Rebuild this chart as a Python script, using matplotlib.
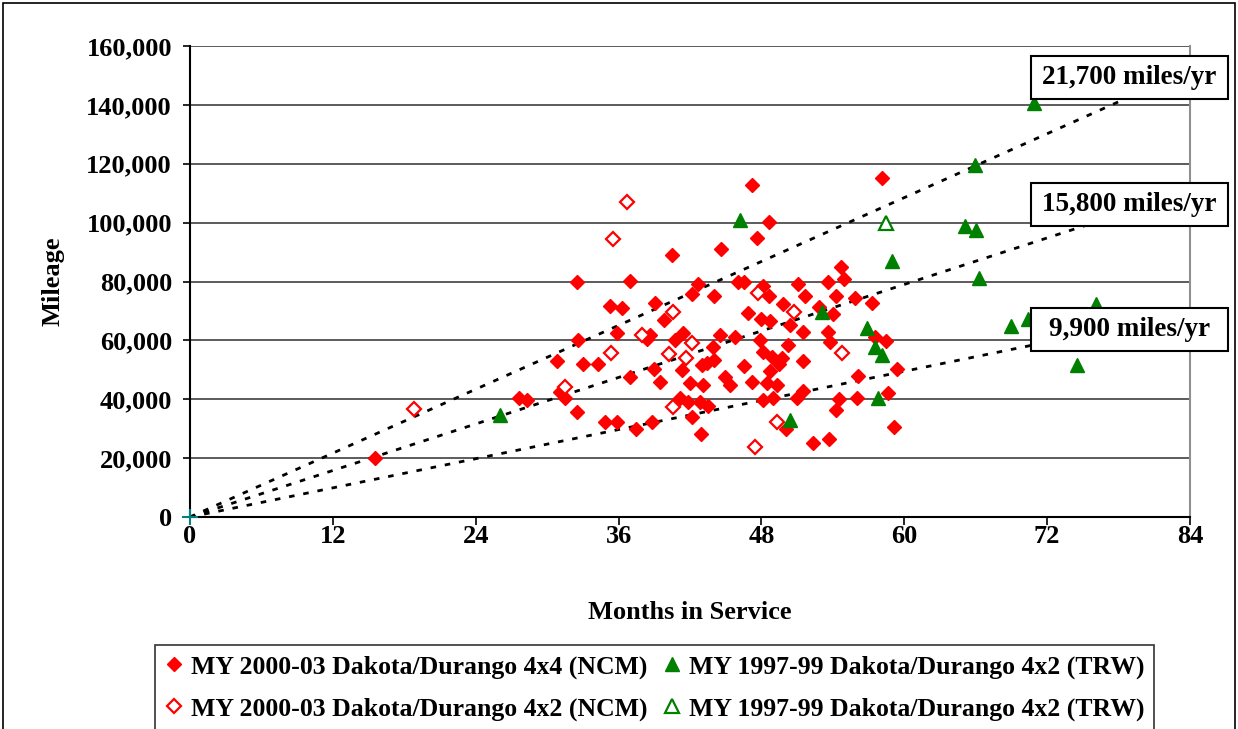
import matplotlib
matplotlib.use("Agg")
import matplotlib.pyplot as plt
from matplotlib.lines import Line2D
from matplotlib.patches import Rectangle
import numpy as np

plt.rcParams['font.family'] = ['Liberation Serif', 'DejaVu Serif']
plt.rcParams['font.weight'] = 'bold'

# months in service / odometer miles for each vehicle group
ncm_4x4_months = [15.5, 30.8, 31.1, 31.5, 32.5, 32.6, 32.5, 33.0, 34.3, 35.9,
                  34.9, 35.9, 37.5, 38.8, 37.0, 39.0, 39.5, 38.4, 38.6, 39.8,
                  37.0, 35.3, 36.3, 39.1, 40.5, 44.6, 47.2, 48.6, 47.6, 42.7,
                  42.2, 44.0, 46.0, 46.5, 48.1, 48.6, 49.8, 46.9, 48.0, 48.7,
                  40.7, 41.4, 44.5, 45.8, 43.9, 44.0, 43.0, 43.4, 41.3, 46.5,
                  44.9, 45.4, 47.2, 42.0, 43.1, 41.2, 41.8, 42.8, 43.5, 42.2,
                  42.9, 48.1, 49.0, 47.9, 48.1, 48.9, 49.5, 48.7, 48.5, 49.3,
                  50.2, 49.7, 50.4, 51.5, 53.6, 53.8, 54.0, 57.5, 58.5, 51.5,
                  56.1, 59.4, 58.6, 51.0, 51.5, 54.5, 54.3, 56.0, 50.1, 52.3,
                  53.7, 59.1, 58.1, 54.7, 54.9, 53.6, 51.1, 51.7, 54.3, 55.9,
                  57.3, 52.8, 27.6, 28.3]
ncm_4x4_miles = [20000, 53000, 42500, 40400, 79800, 60100, 35700, 52000, 52000, 62500,
                 32300, 32300, 29900, 32300, 47600, 50300, 45900, 60500, 61800, 66900,
                 80200, 71700, 71000, 72700, 89000, 91000, 112800, 100200, 94800, 79200,
                 75800, 75100, 79800, 79800, 78500, 75100, 72400, 69300, 67300, 66600,
                 60100, 62500, 61800, 61100, 57700, 53300, 51600, 52300, 49900, 51300,
                 47600, 44800, 45900, 45500, 44800, 40400, 39100, 39100, 37700, 34000,
                 28200, 39700, 40400, 60100, 56100, 54400, 52000, 49600, 45500, 44800,
                 58400, 54000, 65200, 62800, 62800, 59400, 69000, 61100, 59800, 53000,
                 47900, 50300, 42100, 40400, 42800, 40100, 36300, 40400, 29900, 25100,
                 26500, 30600, 115200, 84900, 80800, 79800, 79200, 75100, 75100, 74400,
                 72700, 71300, 40400, 39700]

ncm_4x2_months = [18.8, 36.7, 35.5, 35.4, 31.5, 38.0, 40.6, 42.2, 40.2, 41.7,
                  40.6, 47.5, 47.7, 49.3, 50.7, 54.8]
ncm_4x2_miles = [36700, 107000, 94400, 55700, 44200, 61800, 69600, 59100, 55400, 54000,
                 37400, 23800, 76100, 32300, 69600, 55700]

trw_filled_months = [26.0, 46.2, 53.1, 56.9, 57.5, 58.1, 57.8, 50.4, 59.0, 70.9,
                     65.9, 65.1, 66.0, 66.3, 69.0, 70.4, 76.1, 74.5]
trw_filled_miles = [34700, 100900, 69600, 64200, 57700, 55000, 40400, 33000, 87000, 140600,
                    119600, 98900, 97500, 81200, 64900, 67300, 72400, 51600]

trw_open_months = [58.5]
trw_open_miles = [99900]

# average accumulation rates (miles per year) for the reference lines
rates = [21700, 15800, 9900]
rate_labels = ['21,700 miles/yr', '15,800 miles/yr', '9,900 miles/yr']
label_tops = [56, 183, 308]   # pixel rows of the label boxes

W, H = 1238, 729
fig = plt.figure(figsize=(W / 100, H / 100), dpi=100)
ax = fig.add_axes([190 / W, 1 - 517 / H, 1000 / W, 471 / H])

ax.set_xlim(0, 84)
ax.set_ylim(0, 160000)
ax.set_xticks(np.arange(0, 85, 12))
ax.set_yticks(np.arange(0, 160001, 20000))
ax.set_yticklabels(['0' if v == 0 else '{:,}'.format(v) for v in range(0, 160001, 20000)])
ax.tick_params(axis='both', labelsize=19, direction='out', length=6, width=1.2, colors='black')
ax.tick_params(axis='x', pad=0)
ax.tick_params(axis='y', length=5, pad=8)
for lab in ax.get_xticklabels() + ax.get_yticklabels():
    lab.set_fontweight('bold')

for v in range(20000, 160001, 20000):
    ax.axhline(v, color='#404040', lw=1.2, zorder=1)

ax.spines['top'].set_visible(False)
ax.spines['right'].set_color('#909090')
ax.spines['right'].set_linewidth(1.5)
ax.spines['left'].set_linewidth(1.5)
ax.spines['bottom'].set_linewidth(1.5)

# dotted rate lines through the origin
xs = np.array([0, 84])
for r in rates:
    ax.plot(xs, xs * r / 12, color='black', lw=2, linestyle=(0, (2, 3.2)), zorder=3)

ax.plot(ncm_4x4_months, ncm_4x4_miles, 'D', ms=7.6, mfc='#ff0000', mec='#ff0000',
        mew=1, linestyle='none', zorder=4)
ax.plot(ncm_4x2_months, ncm_4x2_miles, 'D', ms=6.8, mfc='white', mec='#ff0000',
        mew=1.6, linestyle='none', zorder=4)
ax.plot(trw_filled_months, trw_filled_miles, '^', ms=10.5, mfc='#008000', mec='#008000',
        mew=1, linestyle='none', zorder=4)
ax.plot(trw_open_months, trw_open_miles, '^', ms=10, mfc='white', mec='#008000',
        mew=1.6, linestyle='none', zorder=4)
ax.plot([0], [0], '+', ms=12, mew=1.5, color='#008080', zorder=5, clip_on=False)

ax.set_xlabel('Months in Service', fontsize=19, fontweight='bold', labelpad=38)
ax.set_ylabel('Mileage', fontsize=19, fontweight='bold', labelpad=16)

# rate labels in framed boxes on the right
for lab, top in zip(rate_labels, label_tops):
    x0, x1 = 1031, 1228
    y0, y1 = top, top + 43
    fig.patches.append(Rectangle((x0 / W, 1 - y1 / H), (x1 - x0) / W, (y1 - y0) / H,
                                 transform=fig.transFigure, facecolor='white',
                                 edgecolor='black', lw=1.5, zorder=10))
    fig.text((x0 + x1) / 2 / W, 1 - (y0 + y1) / 2 / H, lab, ha='center', va='center',
             fontsize=19.5, fontweight='bold', zorder=11)

# outer border of the chart area
fig.patches.append(Rectangle((3 / W, -0.05), (1232 / W), 1.05 - 3 / H,
                             transform=fig.transFigure, fill=False, edgecolor='black',
                             lw=1.2, zorder=0))

handles = [
    Line2D([], [], marker='D', ms=7.6, mfc='#ff0000', mec='#ff0000', linestyle='none'),
    Line2D([], [], marker='D', ms=6.8, mfc='white', mec='#ff0000', mew=1.6, linestyle='none'),
    Line2D([], [], marker='^', ms=10.5, mfc='#008000', mec='#008000', linestyle='none'),
    Line2D([], [], marker='^', ms=10, mfc='white', mec='#008000', mew=1.6, linestyle='none'),
]
labels = ['MY 2000-03 Dakota/Durango 4x4 (NCM)',
          'MY 2000-03 Dakota/Durango 4x2 (NCM)',
          'MY 1997-99 Dakota/Durango 4x2 (TRW)',
          'MY 1997-99 Dakota/Durango 4x2 (TRW)']
leg = fig.legend(handles, labels, ncol=2, loc='upper left',
                 bbox_to_anchor=(155 / W, 1 - 645 / H),
                 prop={'weight': 'bold', 'size': 18.5}, frameon=True, fancybox=False,
                 edgecolor='black', borderpad=0.4, handlelength=0.7, handletextpad=0.3,
                 columnspacing=0.6, labelspacing=0.72, borderaxespad=0)
leg.get_frame().set_linewidth(1.2)

fig.savefig('out.png', dpi=100, facecolor='white')
